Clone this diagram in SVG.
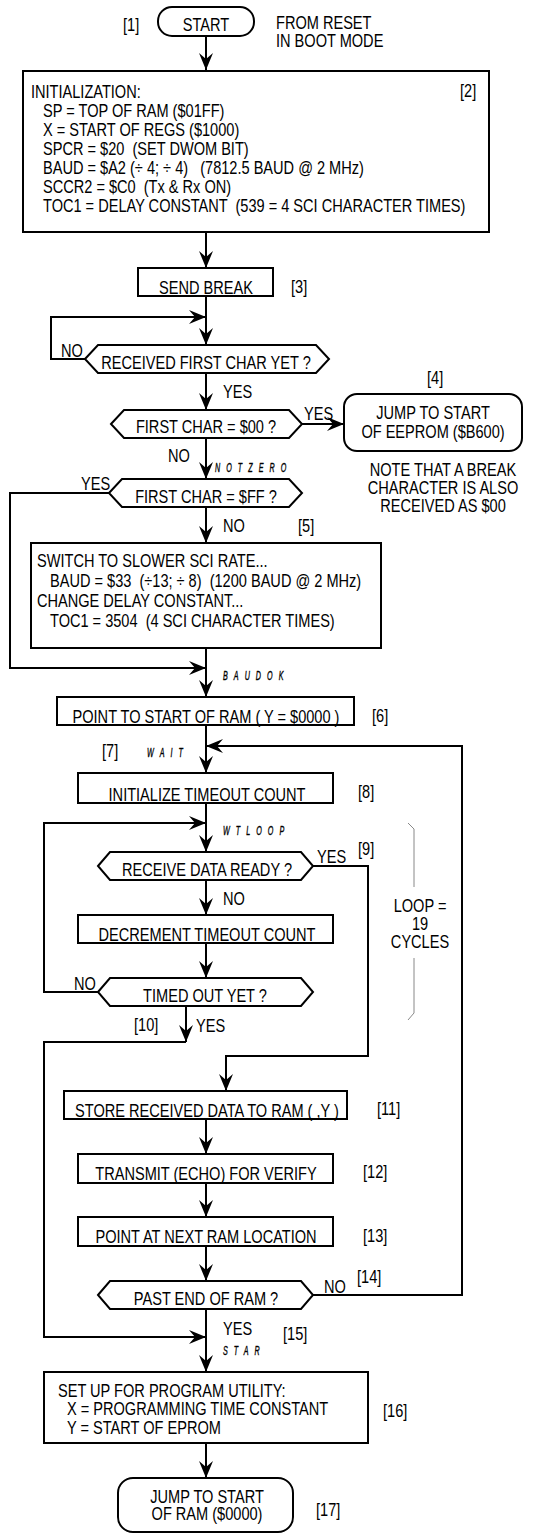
<svg xmlns="http://www.w3.org/2000/svg" width="534" height="1533" viewBox="0 0 534 1533">
<defs>
<style>
.t{font-family:"Liberation Sans",Arial,sans-serif;font-size:18px;fill:#000}
.m{text-anchor:middle}
.i{font-family:"Liberation Sans",Arial,sans-serif;font-size:13px;font-style:italic;letter-spacing:11px;fill:#000;stroke:#000;stroke-width:0.4}
.b{fill:#fff;stroke:#000;stroke-width:2}
.c{fill:none;stroke:#000;stroke-width:2}
.br{fill:none;stroke:#888;stroke-width:1}
</style>
<marker id="ah" viewBox="-18 -8 19 16" refX="0" refY="0" markerWidth="19" markerHeight="16" markerUnits="userSpaceOnUse" orient="auto">
<path d="M0,0 L-17,-7 L-11,0 L-17,7 Z" fill="#000"/>
</marker>
</defs>
<rect width="534" height="1533" fill="#fff"/>

<g id="connectors">
<path class="c" d="M206,36 V70" marker-end="url(#ah)"/>
<path class="c" d="M206,232 V268" marker-end="url(#ah)"/>
<path class="c" d="M206,296 V345" marker-end="url(#ah)"/>
<path class="c" d="M85,359 H51 V317 H206" marker-end="url(#ah)"/>
<path class="c" d="M206,373 V410" marker-end="url(#ah)"/>
<path class="c" d="M301,424 H344" marker-end="url(#ah)"/>
<path class="c" d="M206,438 V479" marker-end="url(#ah)"/>
<path class="c" d="M109,493 H10 V668 H206" marker-end="url(#ah)"/>
<path class="c" d="M206,507 V543" marker-end="url(#ah)"/>
<path class="c" d="M206,648 V697" marker-end="url(#ah)"/>
<path class="c" d="M206,725 V773" marker-end="url(#ah)"/>
<path class="c" d="M313,1295 H462 V746 H206" marker-end="url(#ah)"/>
<path class="c" d="M206,803 V852" marker-end="url(#ah)"/>
<path class="c" d="M98,992 H44 V823 H206" marker-end="url(#ah)"/>
<path class="c" d="M206,880 V915" marker-end="url(#ah)"/>
<path class="c" d="M206,943 V978" marker-end="url(#ah)"/>
<path class="c" d="M186,1006 V1042" marker-end="url(#ah)"/>
<path class="c" d="M186,1042 H44 V1337 H206" marker-end="url(#ah)"/>
<path class="c" d="M313,866 H368 V1056 H226 V1091" marker-end="url(#ah)"/>
<path class="c" d="M206,1119 V1154" marker-end="url(#ah)"/>
<path class="c" d="M206,1183 V1217" marker-end="url(#ah)"/>
<path class="c" d="M206,1246 V1281" marker-end="url(#ah)"/>
<path class="c" d="M206,1309 V1372" marker-end="url(#ah)"/>
<path class="c" d="M206,1443 V1478" marker-end="url(#ah)"/>
</g>

<g id="n1">
<rect class="b" x="158" y="7" width="96" height="29" rx="14"/>
<text class="t m" transform="translate(206,31) scale(.81,1)">START</text>
<text class="t" transform="translate(123,31) scale(.81,1)">[1]</text>
<text class="t" transform="translate(276,29) scale(.81,1)">FROM RESET</text>
<text class="t" transform="translate(276,47) scale(.81,1)">IN BOOT MODE</text>
</g>

<g id="n2">
<rect class="b" x="23" y="71" width="466" height="161"/>
<text class="t" transform="translate(31,98) scale(.81,1)">INITIALIZATION:</text>
<text class="t" transform="translate(460,97) scale(.81,1)">[2]</text>
<text class="t" transform="translate(43,117) scale(.81,1)" xml:space="preserve">SP = TOP OF RAM ($01FF)</text>
<text class="t" transform="translate(43,136) scale(.81,1)" xml:space="preserve">X = START OF REGS ($1000)</text>
<text class="t" transform="translate(43,155) scale(.81,1)" xml:space="preserve">SPCR = $20  (SET DWOM BIT)</text>
<text class="t" transform="translate(43,174) scale(.81,1)" xml:space="preserve">BAUD = $A2 (÷ 4; ÷ 4)   (7812.5 BAUD @ 2 MHz)</text>
<text class="t" transform="translate(43,193) scale(.81,1)" xml:space="preserve">SCCR2 = $C0  (Tx &amp; Rx ON)</text>
<text class="t" transform="translate(43,212) scale(.81,1)" xml:space="preserve">TOC1 = DELAY CONSTANT  (539 = 4 SCI CHARACTER TIMES)</text>
</g>

<g id="n3">
<rect class="b" x="138" y="268" width="135" height="28"/>
<text class="t m" transform="translate(206,294) scale(.81,1)">SEND BREAK</text>
<text class="t" transform="translate(291,293) scale(.81,1)">[3]</text>
</g>

<g id="d1">
<polygon class="b" points="85,359 98,345 316,345 329,359 316,373 98,373"/>
<text class="t m" transform="translate(206,369) scale(.81,1)">RECEIVED FIRST CHAR YET ?</text>
<text class="t" transform="translate(61,357) scale(.81,1)">NO</text>
<text class="t" transform="translate(223,398) scale(.81,1)">YES</text>
</g>

<g id="d2">
<polygon class="b" points="111,424 124,410 289,410 302,424 289,438 124,438"/>
<text class="t m" transform="translate(206,433) scale(.81,1)">FIRST CHAR = $00 ?</text>
<text class="t" transform="translate(304,420) scale(.81,1)">YES</text>
<text class="t" transform="translate(168,462) scale(.81,1)">NO</text>
<text class="i" transform="translate(215,472) scale(.55,1)">NOTZERO</text>
</g>

<g id="n4">
<rect class="b" x="344" y="394" width="178" height="57" rx="13"/>
<text class="t m" transform="translate(433,419) scale(.81,1)">JUMP TO START</text>
<text class="t m" transform="translate(433,438) scale(.81,1)">OF EEPROM ($B600)</text>
<text class="t" transform="translate(427,384) scale(.81,1)">[4]</text>
<text class="t m" transform="translate(443,476) scale(.81,1)">NOTE THAT A BREAK</text>
<text class="t m" transform="translate(443,494) scale(.81,1)">CHARACTER IS ALSO</text>
<text class="t m" transform="translate(443,512) scale(.81,1)">RECEIVED AS $00</text>
</g>

<g id="d3">
<polygon class="b" points="109,493 122,479 289,479 302,493 289,507 122,507"/>
<text class="t m" transform="translate(206,503) scale(.81,1)">FIRST CHAR = $FF ?</text>
<text class="t" transform="translate(81,490) scale(.81,1)">YES</text>
<text class="t" transform="translate(223,532) scale(.81,1)">NO</text>
</g>

<g id="n5">
<rect class="b" x="31" y="543" width="350" height="105"/>
<text class="t" transform="translate(298,532) scale(.81,1)">[5]</text>
<text class="t" transform="translate(37,567) scale(.81,1)" xml:space="preserve">SWITCH TO SLOWER SCI RATE...</text>
<text class="t" transform="translate(50,587) scale(.81,1)" xml:space="preserve">BAUD = $33  (÷13; ÷ 8)  (1200 BAUD @ 2 MHz)</text>
<text class="t" transform="translate(37,607) scale(.81,1)" xml:space="preserve">CHANGE DELAY CONSTANT...</text>
<text class="t" transform="translate(50,627) scale(.81,1)" xml:space="preserve">TOC1 = 3504  (4 SCI CHARACTER TIMES)</text>
</g>

<text class="i" transform="translate(223,680) scale(.55,1)">BAUDOK</text>

<g id="n6">
<rect class="b" x="57" y="697" width="297" height="28"/>
<text class="t m" transform="translate(206,723) scale(.81,1)">POINT TO START OF RAM ( Y = $0000 )</text>
<text class="t" transform="translate(372,722) scale(.81,1)">[6]</text>
</g>

<text class="t" transform="translate(102,757) scale(.81,1)">[7]</text>
<text class="i" transform="translate(147,757) scale(.55,1)">WAIT</text>

<g id="n8">
<rect class="b" x="78" y="773" width="255" height="30"/>
<text class="t m" transform="translate(207,801) scale(.81,1)">INITIALIZE TIMEOUT COUNT</text>
<text class="t" transform="translate(358,798) scale(.81,1)">[8]</text>
</g>

<text class="i" transform="translate(223,835) scale(.55,1)">WTLOOP</text>

<g id="d9">
<polygon class="b" points="98,866 110,852 301,852 313,866 301,880 110,880"/>
<text class="t m" transform="translate(207,876) scale(.81,1)">RECEIVE DATA READY ?</text>
<text class="t" transform="translate(317,863) scale(.81,1)">YES</text>
<text class="t" transform="translate(358,855) scale(.81,1)">[9]</text>
<text class="t" transform="translate(223,905) scale(.81,1)">NO</text>
</g>

<g id="brace">
<polyline class="br" points="408,823 414,829 414,887"/>
<polyline class="br" points="414,958 414,1013 408,1020"/>
<text class="t m" transform="translate(420,912) scale(.81,1)">LOOP =</text>
<text class="t m" transform="translate(420,930) scale(.81,1)">19</text>
<text class="t m" transform="translate(420,948) scale(.81,1)">CYCLES</text>
</g>

<g id="n9b">
<rect class="b" x="78" y="915" width="255" height="28"/>
<text class="t m" transform="translate(207,941) scale(.81,1)">DECREMENT TIMEOUT COUNT</text>
</g>

<g id="d10">
<polygon class="b" points="98,992 110,978 301,978 313,992 301,1006 110,1006"/>
<text class="t m" transform="translate(205,1002) scale(.81,1)">TIMED OUT YET ?</text>
<text class="t" transform="translate(74,990) scale(.81,1)">NO</text>
<text class="t" transform="translate(134,1031) scale(.81,1)">[10]</text>
<text class="t" transform="translate(196,1032) scale(.81,1)">YES</text>
</g>

<g id="n11">
<rect class="b" x="64" y="1091" width="283" height="28"/>
<text class="t m" transform="translate(207,1117) scale(.81,1)">STORE RECEIVED DATA TO RAM ( ,Y )</text>
<text class="t" transform="translate(377,1115) scale(.81,1)">[11]</text>
</g>

<g id="n12">
<rect class="b" x="78" y="1154" width="255" height="29"/>
<text class="t m" transform="translate(206,1180) scale(.81,1)">TRANSMIT (ECHO) FOR VERIFY</text>
<text class="t" transform="translate(363,1178) scale(.81,1)">[12]</text>
</g>

<g id="n13">
<rect class="b" x="78" y="1217" width="255" height="29"/>
<text class="t m" transform="translate(206,1243) scale(.81,1)">POINT AT NEXT RAM LOCATION</text>
<text class="t" transform="translate(363,1242) scale(.81,1)">[13]</text>
</g>

<g id="d14">
<polygon class="b" points="98,1295 110,1281 301,1281 313,1295 301,1309 110,1309"/>
<text class="t m" transform="translate(206,1305) scale(.81,1)">PAST END OF RAM ?</text>
<text class="t" transform="translate(324,1293) scale(.81,1)">NO</text>
<text class="t" transform="translate(357,1283) scale(.81,1)">[14]</text>
</g>

<text class="t" transform="translate(223,1335) scale(.81,1)">YES</text>
<text class="i" transform="translate(223,1355) scale(.55,1)">STAR</text>
<text class="t" transform="translate(283,1340) scale(.81,1)">[15]</text>

<g id="n16">
<rect class="b" x="44" y="1372" width="324" height="71"/>
<text class="t" transform="translate(58,1397) scale(.81,1)">SET UP FOR PROGRAM UTILITY:</text>
<text class="t" transform="translate(67,1415) scale(.81,1)">X = PROGRAMMING TIME CONSTANT</text>
<text class="t" transform="translate(67,1434) scale(.81,1)">Y = START OF EPROM</text>
<text class="t" transform="translate(383,1417) scale(.81,1)">[16]</text>
</g>

<g id="n17">
<rect class="b" x="118" y="1478" width="175" height="54" rx="15"/>
<text class="t m" transform="translate(207,1503) scale(.81,1)">JUMP TO START</text>
<text class="t m" transform="translate(207,1520) scale(.81,1)">OF RAM ($0000)</text>
<text class="t" transform="translate(316,1516) scale(.81,1)">[17]</text>
</g>
</svg>
